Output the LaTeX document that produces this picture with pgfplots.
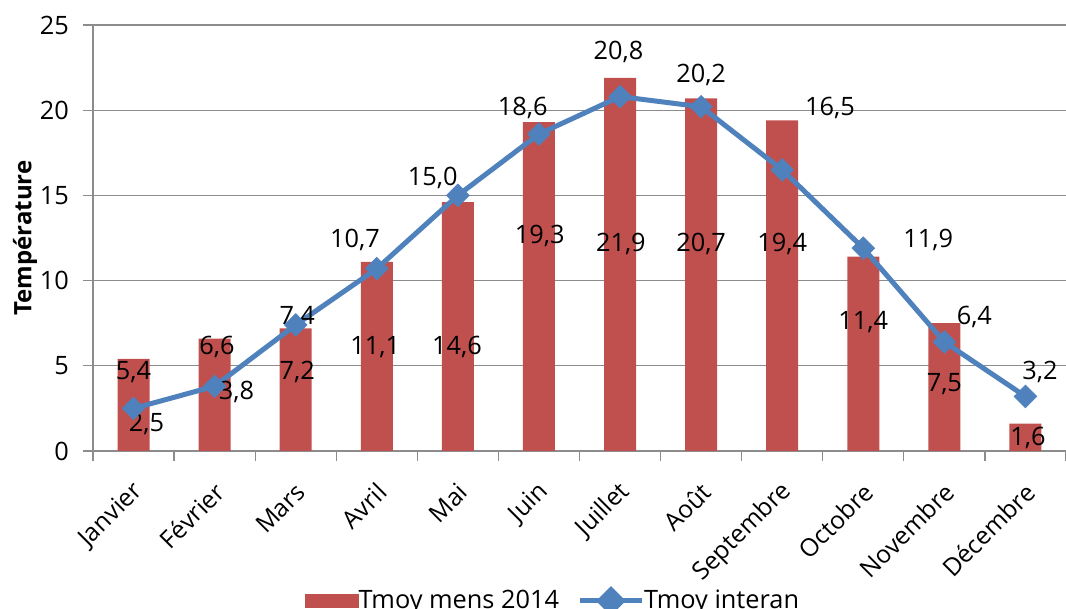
\documentclass[border=0pt]{standalone}
\usepackage{fontspec}
\setmainfont{Open Sans}
\usepackage{pgfplots}
\pgfplotsset{compat=1.18}
\definecolor{barred}{HTML}{C0504D}
\definecolor{lineblue}{HTML}{4F81BD}
\definecolor{gridgray}{HTML}{8C8C8C}

\begin{document}
\fontsize{19pt}{22pt}\selectfont
\begin{tikzpicture}
\path[use as bounding box] (-69.75pt,-118.5pt) rectangle (729.75pt,338.25pt);
\begin{axis}[
  at={(0pt,0pt)}, anchor=south west,
  scale only axis, width=729.75pt, height=319.5pt,
  xmin=0.5, xmax=12.5, ymin=0, ymax=25,
  ytick={0,5,...,25},
  xtick={1,...,12},
  xticklabels={Janvier,Février,Mars,Avril,Mai,Juin,Juillet,Août,Septembre,Octobre,Novembre,Décembre},
  minor xtick={0.5,1.5,...,12.5},
  major x tick style={draw=none},
  tick align=outside, tick pos=left,
  major tick length=7.5pt, minor tick length=7.5pt,
  tick style={draw=gridgray, line width=0.9pt},
  axis x line*=bottom, axis y line*=left,
  axis line style={draw=gridgray, line width=0.9pt, -},
  ymajorgrids, grid style={draw=gridgray, line width=0.9pt},
  /pgf/number format/assume math mode=true,
  ticklabel style={font=\fontsize{19pt}{22pt}\selectfont},
  xticklabel style={font=\fontsize{18.5pt}{21pt}\selectfont, rotate=45, anchor=east, yshift=-17pt, xshift=-5pt},
  yticklabel style={xshift=-4pt},
  ylabel={\bfseries Température},
  ylabel style={font=\fontsize{18pt}{21pt}\selectfont, at={(axis description cs:-0.0699,0.5)}, anchor=center},
  legend style={draw=none, fill=none, at={(0.473,-0.352)}, anchor=center,
    legend columns=2, font=\fontsize{19pt}{22pt}\selectfont,
    /tikz/every even column/.append style={column sep=12pt},
    /tikz/every odd column/.append style={column sep=-2pt}},
  clip=false,
]
\addplot[ybar, bar width=24pt, fill=barred, draw=none,
  legend image code/.code={\fill[barred] (0pt,-5.5pt) rectangle (40.5pt,5.5pt);}]
  coordinates {(1,5.4) (2,6.6) (3,7.2) (4,11.1) (5,14.6) (6,19.3) (7,21.9) (8,20.7) (9,19.4) (10,11.4) (11,7.5) (12,1.6)};
\addlegendentry{Tmoy mens 2014}
\addplot[lineblue, line width=3.75pt, mark=square*, mark size=6pt,
  mark options={rotate=45, fill=lineblue, draw=lineblue, line width=0.5pt},
  legend image code/.code={\draw[lineblue, line width=3.75pt] (0pt,0pt) -- (46pt,0pt);
    \fill[lineblue, rotate around={45:(23pt,0pt)}] (17pt,-6pt) rectangle (29pt,6pt);}]
  coordinates {(1,2.5) (2,3.8) (3,7.4) (4,10.7) (5,15.0) (6,18.6) (7,20.8) (8,20.2) (9,16.5) (10,11.9) (11,6.4) (12,3.2)};
\addlegendentry{Tmoy interan}
% bar labels
\node at (axis cs:1.0,4.64) {5,4};
\node at (axis cs:2.03,6.1) {6,6};
\node at (axis cs:3.02,4.64) {7,2};
\node at (axis cs:3.98,6.1) {11,1};
\node at (axis cs:4.99,6.1) {14,6};
\node at (axis cs:6.01,12.62) {19,3};
\node at (axis cs:7.01,12.15) {21,9};
\node at (axis cs:8.0,12.15) {20,7};
\node at (axis cs:9.0,12.15) {19,4};
\node at (axis cs:10.0,7.57) {11,4};
\node at (axis cs:11.0,3.93) {7,5};
\node at (axis cs:12.03,0.76) {1,6};
% line labels
\node at (axis cs:1.16,1.58) {2,5};
\node at (axis cs:2.27,3.46) {3,8};
\node at (axis cs:3.02,7.86) {7,4};
\node at (axis cs:3.73,12.38) {10,7};
\node at (axis cs:4.69,16.02) {15,0};
\node at (axis cs:5.80,20.13) {18,6};
\node at (axis cs:6.98,23.4) {20,8};
\node at (axis cs:8.0,22.07) {20,2};
\node at (axis cs:9.59,20.13) {16,5};
\node at (axis cs:10.8,12.38) {11,9};
\node at (axis cs:11.37,7.86) {6,4};
\node at (axis cs:12.18,4.64) {3,2};
\end{axis}
\end{tikzpicture}
\end{document}
